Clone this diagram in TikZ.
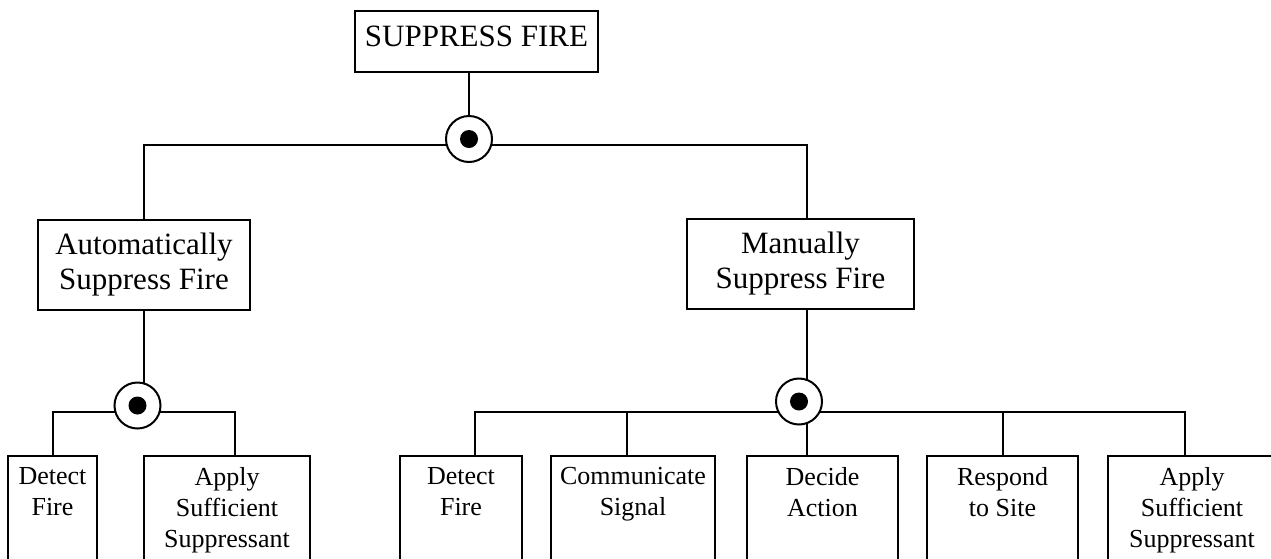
\documentclass[tikz,border=0pt]{standalone}
\usepackage{fontspec}
\setmainfont{Liberation Serif}
\begin{document}
\begin{tikzpicture}[x=1pt,y=-1pt,
  line/.style={line width=1.6pt},
  box/.style={draw, line width=1.6pt, inner sep=0pt},
  midbox/.style={box, align=center, font=\fontsize{31}{35}\selectfont, minimum height=90pt},
  botbox/.style={box, anchor=north, minimum height=200pt},
  bottext/.style={anchor=north, inner sep=0pt, align=center, font=\fontsize{26}{31}\selectfont},
  gate/.style={circle, draw, line width=2pt, fill=white, minimum size=46pt, inner sep=0pt},
  gatedot/.style={circle, fill=black, minimum size=18pt, inner sep=0pt}
]
\useasboundingbox (0,0) rectangle (1271,558);
\clip (0,0) rectangle (1271,558);
\fill[white] (0,0) rectangle (1271,558);

% top
\node[box, minimum width=243pt, minimum height=61pt, text height=20.5pt, text depth=11pt,
  font=\fontsize{31}{35}\selectfont] (top) at (476.5,41.5) {SUPPRESS FIRE};

% middle
\node[midbox, minimum width=212pt] (auto) at (144,265) {Automatically\\Suppress Fire};
\node[midbox, minimum width=227pt] (man) at (800.5,264) {Manually\\Suppress Fire};

% bottom boxes
\node[botbox, minimum width=89pt] (ad) at (52.5,455) {};
\node[botbox, minimum width=166pt] (aa) at (227,455) {};
\node[botbox, minimum width=122pt] (md) at (461,455) {};
\node[botbox, minimum width=164pt] (mc) at (633,455) {};
\node[botbox, minimum width=151pt] (de) at (822.5,455) {};
\node[botbox, minimum width=151pt] (mr) at (1002.5,455) {};
\node[botbox, minimum width=168pt] (ma) at (1192,455) {};

\node[bottext] (adt) at ([yshift=-12pt]ad.north) {Detect\\Fire};
\node[bottext] (aat) at ([yshift=-12pt]aa.north) {Apply\\Sufficient\\Suppressant};
\node[bottext] (mdt) at ([yshift=-12pt]md.north) {Detect\\Fire};
\node[bottext] (mct) at ([yshift=-12pt]mc.north) {Communicate\\Signal};
\node[bottext] (det) at ([yshift=-12pt]de.north) {Decide\\Action};
\node[bottext] (mrt) at ([yshift=-12pt]mr.north) {Respond\\to Site};
\node[bottext] (mat) at ([yshift=-12pt]ma.north) {Apply\\Sufficient\\Suppressant};

% junctions
\coordinate (j1) at (469,145);
\coordinate (j2) at (144,412);
\coordinate (j3) at (807,412);

% level 1 connectors
\draw[line] (top.south -| j1) -- (j1);
\draw[line] (auto.north) |- (j1) -| ([xshift=6.5pt]man.north);

% auto connectors
\draw[line] (auto.south) -- (j2);
\draw[line] ([xshift=0.5pt]ad.north) |- (j2) -| ([xshift=8pt]aa.north);

% manual connectors
\draw[line] ([xshift=6.5pt]man.south) -- (j3) -- (j3 |- de.north);
\draw[line] ([xshift=14pt]md.north) |- (j3) -| ([xshift=-7pt]ma.north);
\draw[line] ([xshift=-6pt]mc.north) -- ([xshift=-6pt]mc.north |- j3);
\draw[line] ([xshift=0.5pt]mr.north) -- ([xshift=0.5pt]mr.north |- j3);

% gates
\node[gate] (g1) at (469,139) {};
\node[gate] (g2) at (137.5,405.5) {};
\node[gate] (g3) at (799,401.5) {};
\node[gatedot] (g1d) at (g1.center) {};
\node[gatedot] (g2d) at (g2.center) {};
\node[gatedot] (g3d) at (g3.center) {};
\end{tikzpicture}
\end{document}
